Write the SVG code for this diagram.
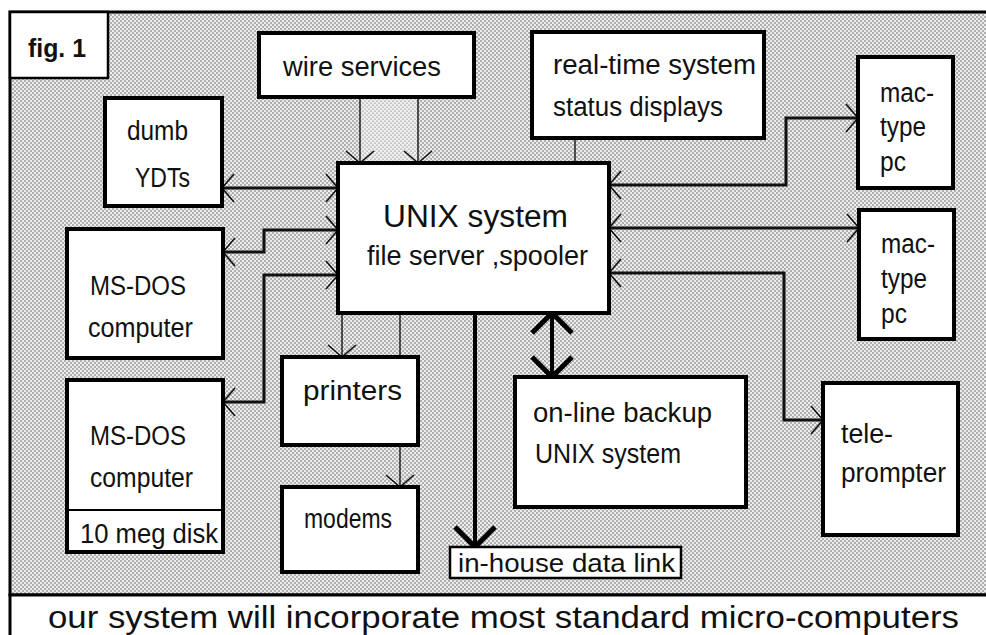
<svg xmlns="http://www.w3.org/2000/svg" width="986" height="635" viewBox="0 0 986 635">
<style>
text{font-family:"Liberation Sans",Arial,sans-serif;fill:#111;}
.box{fill:#fff;stroke:#000;stroke-width:4;}
.thin{fill:#fff;stroke:#000;stroke-width:2.5;}
.conn{fill:none;stroke:#111;stroke-width:3;}
.wire{fill:none;stroke:#222;stroke-width:1.5;}
.big{fill:none;stroke:#000;stroke-width:4;}
.t24{font-size:25px;}
.t26{font-size:27px;}
</style>
<defs>
<pattern id="dots" width="4" height="4" patternUnits="userSpaceOnUse">
<rect width="4" height="4" fill="#ececec"/>
<circle cx="1" cy="1" r="0.7" fill="#444"/>
<circle cx="3" cy="3" r="0.7" fill="#444"/>
</pattern>
<pattern id="dotsLight" width="4" height="4" patternUnits="userSpaceOnUse">
<rect width="4" height="4" fill="#f0f0f0"/>
<circle cx="1" cy="1" r="0.6" fill="#555"/>
<circle cx="3" cy="3" r="0.6" fill="#555"/>
</pattern>
<marker id="chev" viewBox="-16 -18 20 36" markerWidth="20" markerHeight="36" refX="0" refY="0" orient="auto-start-reverse" markerUnits="userSpaceOnUse">
<path d="M-12,-14 L0,0 L-12,14" fill="none" stroke="#111" stroke-width="1.6"/>
</marker>
<marker id="bigchev" viewBox="-26 -26 30 52" markerWidth="30" markerHeight="52" refX="0" refY="0" orient="auto-start-reverse" markerUnits="userSpaceOnUse">
<path d="M-20,-20 L0,0 L-20,20" fill="none" stroke="#000" stroke-width="5"/>
</marker>
</defs>

<rect width="986" height="635" fill="#fff"/>
<g id="frame">
<rect x="10" y="12" width="990" height="583" fill="url(#dots)" stroke="#000" stroke-width="3"/>
<rect x="361" y="98" width="56" height="64" fill="url(#dotsLight)"/>
</g>

<g id="connectors">
<path class="conn" d="M338,188 H222" marker-start="url(#chev)" marker-end="url(#chev)"/>
<path class="conn" d="M338,230 H264 V252 H223" marker-start="url(#chev)" marker-end="url(#chev)"/>
<path class="conn" d="M338,275 H264 V402 H223" marker-start="url(#chev)" marker-end="url(#chev)"/>
<path class="conn" d="M609,185 H786 V118 H858" marker-start="url(#chev)" marker-end="url(#chev)"/>
<path class="conn" d="M609,228 H859" marker-start="url(#chev)" marker-end="url(#chev)"/>
<path class="conn" d="M609,273 H784 V420 H823" marker-start="url(#chev)" marker-end="url(#chev)"/>
<path class="wire" d="M360,97 V163" marker-end="url(#chev)"/>
<path class="wire" d="M418,97 V163" marker-end="url(#chev)"/>
<path class="wire" d="M575,138 V163"/>
<path class="wire" d="M342,313 V357" marker-end="url(#chev)"/>
<path class="wire" d="M400,313 V487" marker-end="url(#chev)"/>
<path class="big" d="M552,313 V377" marker-start="url(#bigchev)" marker-end="url(#bigchev)"/>
<path class="big" d="M475,313 V547" marker-end="url(#bigchev)"/>
</g>

<g id="fig1">
<rect class="thin" x="10" y="12" width="98" height="66"/>
<text x="28" y="57" font-size="25" font-weight="bold" textLength="58" lengthAdjust="spacingAndGlyphs">fig. 1</text>
</g>
<g id="wire-services">
<rect class="box" x="259" y="33" width="215" height="64"/>
<text class="t26" x="283" y="76" textLength="158" lengthAdjust="spacingAndGlyphs">wire services</text>
</g>
<g id="realtime">
<rect class="box" x="532" y="32" width="232" height="106"/>
<text class="t26" x="553" y="74" textLength="203" lengthAdjust="spacingAndGlyphs">real-time system</text>
<text class="t26" x="553" y="116" textLength="170" lengthAdjust="spacingAndGlyphs">status displays</text>
</g>
<g id="dumb-vdts">
<rect class="box" x="105" y="98" width="117" height="108"/>
<text class="t26" x="127" y="140" textLength="61" lengthAdjust="spacingAndGlyphs">dumb</text>
<text class="t26" x="135" y="187" textLength="55" lengthAdjust="spacingAndGlyphs">YDTs</text>
</g>
<g id="unix">
<rect class="box" x="338" y="163" width="271" height="150"/>
<text x="383" y="227" font-size="31" textLength="185" lengthAdjust="spacingAndGlyphs">UNIX system</text>
<text class="t26" x="367" y="265" textLength="221" lengthAdjust="spacingAndGlyphs">file server ,spooler</text>
</g>
<g id="msdos1">
<rect class="box" x="67" y="229" width="156" height="129"/>
<text class="t26" x="90" y="295" textLength="96" lengthAdjust="spacingAndGlyphs">MS-DOS</text>
<text class="t26" x="88" y="337" textLength="105" lengthAdjust="spacingAndGlyphs">computer</text>
</g>
<g id="msdos2">
<rect class="box" x="67" y="380" width="156" height="172"/>
<line x1="67" y1="510" x2="223" y2="510" stroke="#000" stroke-width="2"/>
<text class="t26" x="90" y="445" textLength="96" lengthAdjust="spacingAndGlyphs">MS-DOS</text>
<text class="t26" x="90" y="487" textLength="103" lengthAdjust="spacingAndGlyphs">computer</text>
<text class="t26" x="80" y="543" textLength="138" lengthAdjust="spacingAndGlyphs">10 meg disk</text>
</g>
<g id="printers">
<rect class="box" x="282" y="357" width="136" height="88"/>
<text class="t26" x="303" y="400" textLength="99" lengthAdjust="spacingAndGlyphs">printers</text>
</g>
<g id="modems">
<rect class="box" x="282" y="487" width="136" height="85"/>
<text class="t26" x="304" y="528" textLength="88" lengthAdjust="spacingAndGlyphs">modems</text>
</g>
<g id="backup">
<rect class="box" x="515" y="377" width="231" height="130"/>
<text class="t26" x="533" y="422" textLength="179" lengthAdjust="spacingAndGlyphs">on-line backup</text>
<text class="t26" x="535" y="463" textLength="146" lengthAdjust="spacingAndGlyphs">UNIX system</text>
</g>
<g id="mac1">
<rect class="box" x="858" y="57" width="95" height="131"/>
<text class="t26" x="880" y="102" textLength="54" lengthAdjust="spacingAndGlyphs">mac-</text>
<text class="t26" x="880" y="136" textLength="46" lengthAdjust="spacingAndGlyphs">type</text>
<text class="t26" x="880" y="171" textLength="26" lengthAdjust="spacingAndGlyphs">pc</text>
</g>
<g id="mac2">
<rect class="box" x="859" y="210" width="95" height="129"/>
<text class="t26" x="881" y="253" textLength="54" lengthAdjust="spacingAndGlyphs">mac-</text>
<text class="t26" x="881" y="288" textLength="46" lengthAdjust="spacingAndGlyphs">type</text>
<text class="t26" x="881" y="323" textLength="26" lengthAdjust="spacingAndGlyphs">pc</text>
</g>
<g id="teleprompter">
<rect class="box" x="823" y="383" width="135" height="152"/>
<text class="t26" x="841" y="443" textLength="52" lengthAdjust="spacingAndGlyphs">tele-</text>
<text class="t26" x="841" y="482" textLength="105" lengthAdjust="spacingAndGlyphs">prompter</text>
</g>
<g id="datalink">
<rect class="thin" x="450" y="547" width="231" height="31"/>
<text class="t24" x="458" y="572" textLength="217" lengthAdjust="spacingAndGlyphs">in-house data link</text>
</g>
<g id="caption">
<rect x="10" y="595" width="990" height="45" fill="#fff" stroke="#000" stroke-width="3"/>
<text x="48" y="628" font-size="31" textLength="911" lengthAdjust="spacingAndGlyphs">our system will incorporate most standard micro-computers</text>
</g>
</svg>
